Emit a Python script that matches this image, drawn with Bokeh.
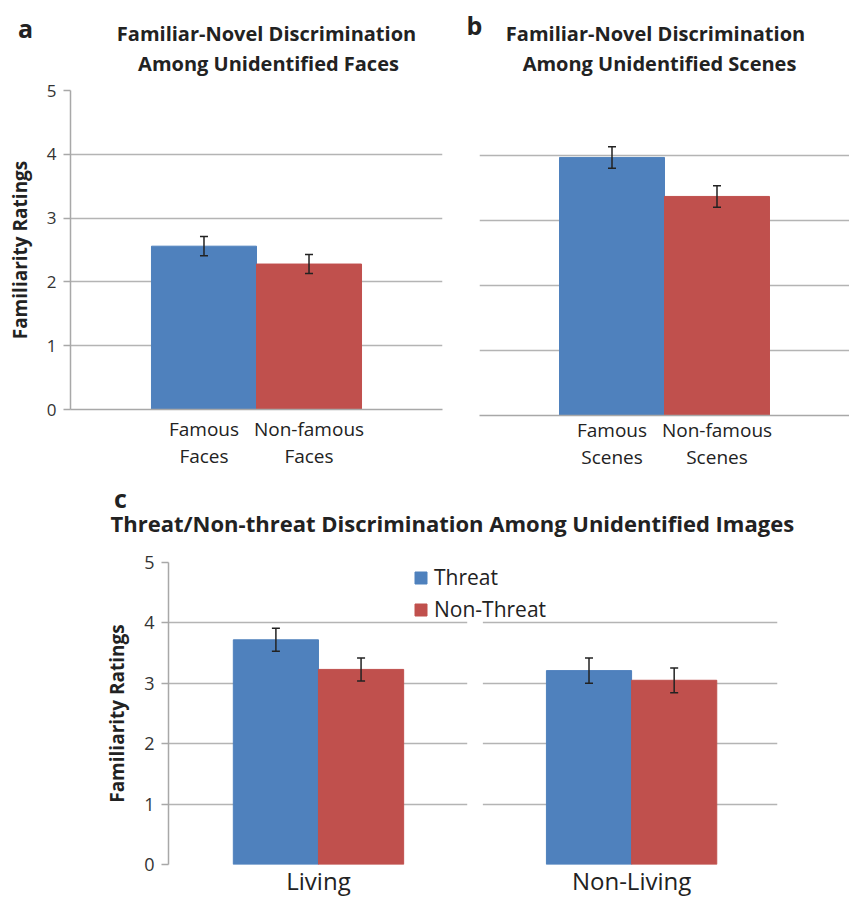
from bokeh.plotting import figure
from bokeh.models import (Range1d, FixedTicker, ColumnDataSource, Whisker, Label,
                          Legend, LegendItem, BoxAnnotation, TeeHead)
from bokeh.layouts import column, row
from bokeh.embed import file_html
from bokeh.resources import INLINE

# ---------------- data ----------------
cats_a = ["Famous\nFaces", "Non-famous\nFaces"]
vals_a = [2.56, 2.28]
errs_a = [0.15, 0.15]

cats_b = ["Famous\nScenes", "Non-famous\nScenes"]
vals_b = [3.97, 3.37]
errs_b = [0.165, 0.165]

groups_c = ["Living", "Non-Living"]
threat_c = [3.72, 3.21]
threat_err_c = [0.19, 0.21]
nonthreat_c = [3.23, 3.05]
nonthreat_err_c = [0.19, 0.205]

y_ticks = [0, 1, 2, 3, 4, 5]

title_a = ["Familiar-Novel Discrimination", "Among Unidentified Faces"]
title_b = ["Familiar-Novel Discrimination", "Among Unidentified Scenes"]
title_c = "Threat/Non-threat Discrimination Among Unidentified Images"

# ---------------- style ----------------
FONT = "Open Sans"
BLUE = "#4F81BD"
RED = "#C0504D"
GRID = "#b4b4b4"
AXIS = "#a8a8a8"
TXT = "#222222"
ERR = "#222222"
W = 849


def header(width, height):
    h = figure(width=width, height=height, x_range=Range1d(0, width),
               y_range=Range1d(height, 0), x_axis_type=None, y_axis_type=None,
               output_backend="svg", toolbar_location=None,
               min_border_left=0, min_border_right=0, min_border_top=0, min_border_bottom=0)
    h.frame_align = False
    h.title.visible = False
    h.outline_line_color = None
    h.xgrid.visible = False
    h.ygrid.visible = False
    return h


def add_text(p, text, x, y, size, bold=False, align="center"):
    p.add_layout(Label(x=x, y=y, text=text,
                       text_font=FONT, text_font_size=f"{size}px",
                       text_font_style="bold" if bold else "normal",
                       text_align=align, text_baseline="middle", text_color=TXT))


def make_fig(width, height, x_range, bl, br, bt, bb):
    p = figure(width=width, height=height, x_range=x_range, y_range=Range1d(0, 5),
               output_backend="svg", toolbar_location=None,
               min_border_left=bl, min_border_right=br,
               min_border_top=bt, min_border_bottom=bb)
    p.frame_align = False
    p.title.visible = False
    p.outline_line_color = None
    p.background_fill_color = "white"
    p.xgrid.grid_line_color = None
    p.ygrid.grid_line_color = GRID
    p.ygrid.grid_line_width = 1.5
    p.yaxis.ticker = FixedTicker(ticks=y_ticks)
    p.ygrid.ticker = FixedTicker(ticks=y_ticks)
    p.yaxis.axis_line_color = AXIS
    p.yaxis.axis_line_width = 1.5
    p.yaxis.major_tick_line_color = AXIS
    p.yaxis.major_tick_line_width = 1.5
    p.yaxis.major_tick_out = 7
    p.yaxis.major_tick_in = 0
    p.yaxis.minor_tick_line_color = None
    p.yaxis.major_label_text_font = FONT
    p.yaxis.major_label_text_color = "#333333"
    p.yaxis.major_label_standoff = 7
    p.yaxis.axis_label = "Familiarity Ratings"
    p.yaxis.axis_label_text_font = FONT
    p.yaxis.axis_label_text_font_style = "bold"
    p.yaxis.axis_label_text_font_size = "19px"
    p.yaxis.axis_label_text_color = TXT
    p.yaxis.axis_label_standoff = 11
    p.xaxis.axis_line_color = AXIS
    p.xaxis.axis_line_width = 1.5
    p.xaxis.major_tick_line_color = None
    p.xaxis.minor_tick_line_color = None
    p.xaxis.major_label_text_font = FONT
    p.xaxis.major_label_text_color = TXT
    return p


def add_err(p, xs, vals, errs):
    src = ColumnDataSource(dict(x=xs, upper=[v + e for v, e in zip(vals, errs)],
                                lower=[v - e for v, e in zip(vals, errs)]))
    w = Whisker(base="x", upper="upper", lower="lower", source=src,
                line_color=ERR, line_width=1.5,
                upper_head=TeeHead(size=8, line_color=ERR, line_width=1.5),
                lower_head=TeeHead(size=8, line_color=ERR, line_width=1.5))
    w.level = "overlay"
    p.add_layout(w)


def simple_panel(cats, vals, errs, width, x_start, x_end, bl, br, bb, standoff):
    xs = list(range(len(cats)))
    p = make_fig(width, 400, Range1d(x_start, x_end), bl, br, 10, bb)
    src = ColumnDataSource(dict(x=xs, top=vals, color=[BLUE, RED]))
    p.vbar(x="x", top="top", width=1.0, bottom=0, source=src,
           fill_color="color", line_color="color")
    add_err(p, xs, vals, errs)
    p.xaxis.ticker = FixedTicker(ticks=xs)
    p.xaxis.major_label_overrides = {i: c for i, c in enumerate(cats)}
    p.xaxis.major_label_text_font_size = "19px"
    p.xaxis.major_label_text_line_height = 1.05
    p.xaxis.major_label_standoff = standoff
    return p


# ---------------- header for a / b ----------------
hab = header(W, 80)
add_text(hab, "a", 25, 27, 25, bold=True)
add_text(hab, title_a[0], 266, 33, 20, bold=True)
add_text(hab, title_a[1], 268, 63, 20, bold=True)
add_text(hab, "b", 474, 24, 25, bold=True)
add_text(hab, title_b[0], 655, 33, 20, bold=True)
add_text(hab, title_b[1], 659, 63, 20, bold=True)

# ---------------- panel a ----------------
pa = simple_panel(cats_a, vals_a, errs_a, 450, -1.271, 2.271, 70, 8, 71, 0)
pa.yaxis.major_label_text_font_size = "17px"

# ---------------- panel b ----------------
pb = simple_panel(cats_b, vals_b, errs_b, 399, -1.262, 2.262, 29, 0, 65, -5)
pb.yaxis.visible = False

# ---------------- header for c ----------------
hc = header(W, 66)
add_text(hc, "c", 120, 17, 25, bold=True)
add_text(hc, title_c, 110, 42, 22, bold=True, align="left")

# ---------------- panel c ----------------
gx = list(range(len(groups_c)))
bw = 0.272
pc = make_fig(W, 353, Range1d(-0.479, 1.466), 168, 72, 16, 35)
pc.xaxis.axis_line_color = None
pc.xaxis.ticker = FixedTicker(ticks=gx)
pc.xaxis.major_label_overrides = {i: g for i, g in enumerate(groups_c)}
pc.xaxis.major_label_text_font_size = "24px"
pc.xaxis.major_label_standoff = -7
pc.yaxis.major_label_text_font_size = "18px"

# gap between the two sub-panels
gap = sum(gx) / len(gx)
pc.add_layout(BoxAnnotation(left=gap - 0.025, right=gap + 0.025,
                            fill_color="white", fill_alpha=1.0, line_color=None))

xs_t = [x - bw / 2 for x in gx]
xs_n = [x + bw / 2 for x in gx]
r_t = pc.vbar(x=xs_t, top=threat_c, width=bw, bottom=0, fill_color=BLUE, line_color=BLUE)
r_n = pc.vbar(x=xs_n, top=nonthreat_c, width=bw, bottom=0, fill_color=RED, line_color=RED)
add_err(pc, xs_t, threat_c, threat_err_c)
add_err(pc, xs_n, nonthreat_c, nonthreat_err_c)

legend = Legend(items=[LegendItem(label="Threat", renderers=[r_t]),
                       LegendItem(label="Non-Threat", renderers=[r_n])],
                location=(245, 241), orientation="vertical")
legend.glyph_width = 15
legend.glyph_height = 15
legend.label_height = 20
legend.spacing = 4
legend.padding = 0
legend.margin = 0
legend.label_standoff = 6
legend.border_line_color = None
legend.background_fill_alpha = 0
legend.label_text_font = FONT
legend.label_text_font_size = "21px"
legend.label_text_color = TXT
pc.add_layout(legend)

layout = column(hab, row(pa, pb), hc, pc)
open("out.html", "w").write(file_html(layout, INLINE))
